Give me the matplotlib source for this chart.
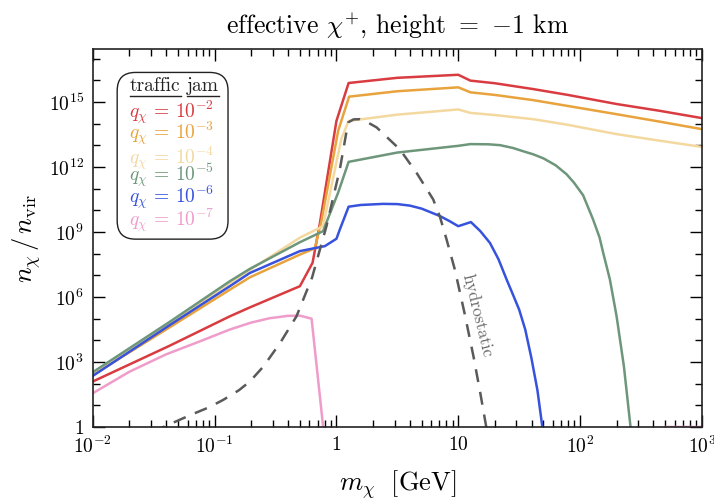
import numpy as np
import matplotlib
matplotlib.use('Agg')
import matplotlib.pyplot as plt
from matplotlib.patches import FancyBboxPatch
from matplotlib.ticker import FixedLocator, FixedFormatter, NullFormatter, LogLocator

# 字体：LaTeX 风格
plt.rcParams['font.family'] = 'serif'
plt.rcParams['font.serif'] = ['cmr10', 'DejaVu Serif']
plt.rcParams['mathtext.fontset'] = 'cm'
plt.rcParams['axes.formatter.use_mathtext'] = True
plt.rcParams['axes.unicode_minus'] = False

# 数据（log10 m_chi [GeV], log10 n/n_vir）
red_logm = [-2.0, -1.37, -0.875, -0.711, -0.30, -0.196, -0.136, 0.0, 0.10, 0.5, 1.0, 1.10,
            1.3, 1.615, 1.9, 2.30, 2.65, 3.0]
red_logn = [2.10, 3.75, 5.11, 5.52, 6.50, 7.58, 9.40, 14.13, 15.88, 16.12, 16.26, 15.99,
            15.87, 15.60, 15.33, 14.91, 14.60, 14.26]

orange_logm = [-2.0, -1.37, -0.875, -0.711, -0.30, -0.177, -0.12, 0.014, 0.104, 0.5, 1.0, 1.10,
               1.3, 1.615, 1.9, 2.30, 2.65, 3.0]
orange_logn = [2.40, 4.60, 6.34, 6.91, 7.96, 8.25, 9.60, 13.67, 15.25, 15.50, 15.68, 15.45,
               15.33, 15.09, 14.82, 14.44, 14.10, 13.75]

tan_logm = [-2.0, -1.37, -0.875, -0.711, -0.30, -0.11, 0.04, 0.10, 0.5, 1.0, 1.10,
            1.3, 1.615, 1.9, 2.30, 2.65, 3.0]
tan_logn = [2.50, 4.80, 6.65, 7.25, 8.74, 9.27, 13.30, 14.13, 14.42, 14.66, 14.50,
            14.40, 14.21, 13.95, 13.52, 13.22, 12.93]

green_logm = [-2.0, -1.37, -0.875, -0.711, -0.30, -0.11, 0.014, 0.10, 0.5, 1.0, 1.10, 1.25, 1.344,
              1.45, 1.55, 1.615, 1.70, 1.80, 1.889, 1.95, 2.025, 2.107, 2.16, 2.19, 2.245, 2.30,
              2.36, 2.43]
green_logn = [2.53, 4.85, 6.73, 7.30, 8.53, 9.04, 10.82, 12.24, 12.67, 12.98, 13.06, 13.05, 13.01,
              12.88, 12.70, 12.59, 12.40, 12.08, 11.67, 11.28, 10.70, 9.58, 8.75, 8.04, 6.81, 5.11,
              2.80, -0.8]

blue_logm = [-2.0, -1.37, -0.875, -0.711, -0.30, -0.095, 0.0, 0.028, 0.10, 0.2, 0.383, 0.5, 0.603,
             0.7, 0.849, 0.93, 1.0, 1.104, 1.18, 1.26, 1.33, 1.397, 1.45, 1.50, 1.55, 1.60, 1.65, 1.70]
blue_logn = [2.36, 4.70, 6.50, 7.11, 8.12, 8.35, 8.69, 9.12, 10.17, 10.25, 10.30, 10.29, 10.22,
             10.08, 9.74, 9.50, 9.27, 9.46, 9.05, 8.50, 7.75, 6.81, 6.10, 5.42, 4.50, 3.20, 1.70, -0.4]

pink_logm = [-2.0, -1.7, -1.4, -1.1, -0.875, -0.7, -0.55, -0.4, -0.3, -0.204, -0.109, -0.10,
             np.nan, 2.7, 3.0]
pink_logn = [1.56, 2.55, 3.35, 4.00, 4.50, 4.82, 5.02, 5.13, 5.14, 5.00, 0.0, -0.4,
             np.nan, 0.0, 0.0]

hydro_logm = [-1.5, -1.42, -1.3, -1.2, -1.05, -0.93, -0.8, -0.711, -0.6, -0.46, -0.328, -0.2,
              -0.082, 0.028, 0.096, 0.14, 0.19, 0.26, 0.33, 0.42, 0.52, 0.657, 0.794, 0.85,
              0.904, 0.972, 1.05, 1.125, 1.18, 1.23, 1.25]
hydro_logn = [-0.3, 0.0, 0.30, 0.55, 0.90, 1.25, 1.70, 2.10, 2.79, 3.90, 5.11, 6.90,
              9.27, 11.9, 14.06, 14.20, 14.21, 14.05, 13.83, 13.35, 12.82, 11.74, 10.51, 9.70,
              8.66, 7.27, 5.30, 3.26, 1.60, 0.0, -0.5]

q_labels = [r'$q_\chi\,=\,10^{-2}$', r'$q_\chi\,=\,10^{-3}$', r'$q_\chi\,=\,10^{-4}$',
            r'$q_\chi\,=\,10^{-5}$', r'$q_\chi\,=\,10^{-6}$', r'$q_\chi\,=\,10^{-7}$']
q_colors = ['#d93c40', '#e8a33c', '#f3d8a0', '#6d967a', '#3752dc', '#ef9ccb']

xtick_vals = [1e-2, 1e-1, 1, 10, 1e2, 1e3]
xtick_labels = [r'$10^{-2}$', r'$10^{-1}$', r'$1$', r'$10$', r'$10^{2}$', r'$10^{3}$']
ytick_vals = [1, 1e3, 1e6, 1e9, 1e12, 1e15]
ytick_labels = [r'$1$', r'$10^{3}$', r'$10^{6}$', r'$10^{9}$', r'$10^{12}$', r'$10^{15}$']


def to_lin(logm, logn):
    """log10 -> 线性"""
    return np.power(10.0, np.array(logm)), np.power(10.0, np.array(logn))


fig = plt.figure(figsize=(7.14, 5.0), dpi=100)
ax = fig.add_axes([0.130, 0.146, 0.853, 0.756])

series = [(red_logm, red_logn), (orange_logm, orange_logn), (tan_logm, tan_logn),
          (green_logm, green_logn), (blue_logm, blue_logn), (pink_logm, pink_logn)]
for (lm, ln), c in zip(series, q_colors):
    m, n = to_lin(lm, ln)
    ax.plot(m, n, color=c, lw=1.8)

m, n = to_lin(hydro_logm, hydro_logn)
ax.plot(m, n, color='#5a5a5a', lw=1.8, dashes=(5.2, 4.0))

ax.set_xscale('log')
ax.set_yscale('log')
ax.set_xlim(1e-2, 1e3)
ax.set_ylim(1, 10 ** 17.45)

# 刻度
ax.xaxis.set_major_locator(FixedLocator(xtick_vals))
ax.xaxis.set_major_formatter(FixedFormatter(xtick_labels))
ax.xaxis.set_minor_locator(LogLocator(base=10, subs=np.arange(2, 10), numticks=20))
ax.xaxis.set_minor_formatter(NullFormatter())
ax.yaxis.set_major_locator(FixedLocator(ytick_vals))
ax.yaxis.set_major_formatter(FixedFormatter(ytick_labels))
ax.yaxis.set_minor_locator(FixedLocator([10.0 ** k for k in range(0, 18)]))
ax.yaxis.set_minor_formatter(NullFormatter())
ax.tick_params(which='both', direction='in', top=True, right=True, labelsize=14, width=1.0)
ax.tick_params(which='major', length=8.5, pad=6.5)
ax.tick_params(which='minor', length=5)
for s in ax.spines.values():
    s.set_linewidth(1.2)
    s.set_color('#222222')

ax.set_xlabel(r'$m_\chi\ \ [\mathrm{GeV}]$', fontsize=19, labelpad=8)
ax.set_ylabel(r'$n_\chi\,/\,n_{\rm vir}$', fontsize=19, labelpad=4)
ax.set_title(r'effective $\chi^{+}$, height $=$ $-1$ km', fontsize=18.5, pad=12)

ax.text(14.5, 1.4e5, 'hydrostatic', rotation=-76, color='#6a6a6a', fontsize=12.5,
        ha='center', va='center', rotation_mode='anchor')

# 图例框（手工绘制）
box = FancyBboxPatch((0.040, 0.497), 0.182, 0.441, boxstyle='round,pad=0,rounding_size=0.03',
                     transform=ax.transAxes, facecolor='white', edgecolor='#222222', lw=1.0,
                     zorder=5, mutation_aspect=609 / 378)
ax.add_patch(box)
t1 = ax.text(0.061, 0.890, 'traffic', transform=ax.transAxes, fontsize=14, va='baseline',
             ha='left', zorder=6, color='#222222')
t2 = ax.text(0.155, 0.890, 'jam', transform=ax.transAxes, fontsize=14, va='baseline',
             ha='left', zorder=6, color='#222222')
row_y = [0.834, 0.778, 0.712, 0.667, 0.608, 0.548]
for lab, c, yy in zip(q_labels, q_colors, row_y):
    ax.text(0.060, yy, lab, transform=ax.transAxes, fontsize=14, color=c, va='center',
            ha='left', zorder=6)

fig.canvas.draw()
inv = ax.transAxes.inverted()
for t in (t1, t2):
    bb = t.get_window_extent()
    (x0, y0), (x1, y1) = inv.transform([[bb.x0, bb.y0], [bb.x1, bb.y1]])
    ax.plot([x0, x1], [y0 - 0.004, y0 - 0.004], transform=ax.transAxes, color='#222222',
            lw=1.0, zorder=6, clip_on=False)

fig.savefig('out.png', dpi=100)
